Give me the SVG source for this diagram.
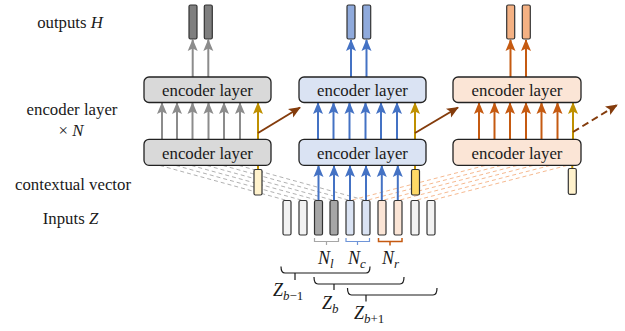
<svg xmlns="http://www.w3.org/2000/svg" width="625" height="331" viewBox="0 0 625 331">
<style>
.lbl{font-family:'Liberation Serif',serif;font-size:16.8px;fill:#1a1a1a}
.box{stroke:#222;stroke-width:1.3}
.g{fill:#d9d9d9}.b{fill:#dae3f3}.o{fill:#fbe5d6}
.bar{stroke:#333;stroke-width:1.2}
.math{font-family:'Liberation Serif',serif;font-style:italic;fill:#1a1a1a}
.up{font-style:normal}
.ag{stroke:#8c8c8c;stroke-width:2;fill:none;marker-end:url(#mg)}
.ab{stroke:#4472c4;stroke-width:2;fill:none;marker-end:url(#mb)}
.ao{stroke:#c55a11;stroke-width:2;fill:none;marker-end:url(#mo)}
.ay{stroke:#bf9000;stroke-width:2;fill:none;marker-end:url(#my)}
.ar{stroke:#843c0c;stroke-width:2;fill:none;marker-end:url(#mr)}
.dg{stroke:#a8a8a8;stroke-width:0.9;stroke-dasharray:4 3;fill:none}
.do{stroke:#f4b183;stroke-width:0.9;stroke-dasharray:4 3;fill:none}
.brace{stroke:#1a1a1a;stroke-width:1.2;fill:none}
</style>
<defs>
<marker id="mg" markerUnits="userSpaceOnUse" markerWidth="13" markerHeight="13" viewBox="0 0 13 13" refX="11" refY="6.5" orient="auto"><path d="M0,1.5 L12,6.5 L0,11.5 L2.5,6.5 z" fill="#8c8c8c"/></marker>
<marker id="mb" markerUnits="userSpaceOnUse" markerWidth="13" markerHeight="13" viewBox="0 0 13 13" refX="11" refY="6.5" orient="auto"><path d="M0,1.5 L12,6.5 L0,11.5 L2.5,6.5 z" fill="#4472c4"/></marker>
<marker id="mo" markerUnits="userSpaceOnUse" markerWidth="13" markerHeight="13" viewBox="0 0 13 13" refX="11" refY="6.5" orient="auto"><path d="M0,1.5 L12,6.5 L0,11.5 L2.5,6.5 z" fill="#c55a11"/></marker>
<marker id="my" markerUnits="userSpaceOnUse" markerWidth="13" markerHeight="13" viewBox="0 0 13 13" refX="11" refY="6.5" orient="auto"><path d="M0,1.5 L12,6.5 L0,11.5 L2.5,6.5 z" fill="#bf9000"/></marker>
<marker id="mr" markerUnits="userSpaceOnUse" markerWidth="13" markerHeight="13" viewBox="0 0 13 13" refX="11" refY="6.5" orient="auto"><path d="M0,1.5 L12,6.5 L0,11.5 L2.5,6.5 z" fill="#843c0c"/></marker>
</defs>

<g id="labels" font-family="Liberation Serif, serif">
<text class="lbl" x="70" y="27.5" text-anchor="middle">outputs <tspan font-style="italic">H</tspan></text>
<text class="lbl" x="72" y="115" text-anchor="middle">encoder layer</text>
<text class="lbl" x="71" y="136" text-anchor="middle">× <tspan font-style="italic">N</tspan></text>
<text class="lbl" x="73" y="189.5" text-anchor="middle">contextual vector</text>
<text class="lbl" x="70.5" y="224" text-anchor="middle">Inputs <tspan font-style="italic">Z</tspan></text>
</g>

<g id="connectors">
<path class="dg" d="M160,165.5 L287,200.5 M176,165.5 L303,200.5 M191.5,165.5 L318.5,200.5 M207,165.5 L334,200.5 M223,165.5 L350,200.5 M239,165.5 L366,200.5"/>
<path class="do" d="M485,165.5 L350,200.5 M501,165.5 L366,200.5 M517,165.5 L382,200.5 M533,165.5 L398,200.5 M550,165.5 L415,200.5 M567,165.5 L431,200.5"/>
<line class="ag" x1="162" y1="139" x2="162" y2="103"/>
<line class="ag" x1="177" y1="139" x2="177" y2="103"/>
<line class="ag" x1="192.5" y1="139" x2="192.5" y2="103"/>
<line class="ag" x1="208.5" y1="139" x2="208.5" y2="103"/>
<line class="ag" x1="224" y1="139" x2="224" y2="103"/>
<line class="ag" x1="240" y1="139" x2="240" y2="103"/>
<line class="ay" x1="258" y1="139" x2="258" y2="103"/>
<line class="ag" x1="192.7" y1="77" x2="192.7" y2="40"/>
<line class="ag" x1="208.3" y1="77" x2="208.3" y2="40"/>
<line x1="258" y1="165.5" x2="258" y2="169.5" stroke="#bf9000" stroke-width="2"/>
<line class="ab" x1="318" y1="139" x2="318" y2="103"/>
<line class="ab" x1="333.5" y1="139" x2="333.5" y2="103"/>
<line class="ab" x1="349.5" y1="139" x2="349.5" y2="103"/>
<line class="ab" x1="365.5" y1="139" x2="365.5" y2="103"/>
<line class="ab" x1="381" y1="139" x2="381" y2="103"/>
<line class="ab" x1="397" y1="139" x2="397" y2="103"/>
<line class="ay" x1="415" y1="139" x2="415" y2="103"/>
<line class="ab" x1="351" y1="77" x2="351" y2="40"/>
<line class="ab" x1="366.5" y1="77" x2="366.5" y2="40"/>
<line class="ab" x1="318.5" y1="200.5" x2="318.5" y2="166"/>
<line class="ab" x1="334" y1="200.5" x2="334" y2="166"/>
<line class="ab" x1="350" y1="200.5" x2="350" y2="166"/>
<line class="ab" x1="366" y1="200.5" x2="366" y2="166"/>
<line class="ab" x1="381.8" y1="200.5" x2="381.8" y2="166"/>
<line class="ab" x1="397.8" y1="200.5" x2="397.8" y2="166"/>
<line x1="415" y1="165.5" x2="415" y2="169.5" stroke="#bf9000" stroke-width="2"/>
<line class="ao" x1="479" y1="139" x2="479" y2="103"/>
<line class="ao" x1="494.5" y1="139" x2="494.5" y2="103"/>
<line class="ao" x1="510" y1="139" x2="510" y2="103"/>
<line class="ao" x1="526" y1="139" x2="526" y2="103"/>
<line class="ao" x1="541.5" y1="139" x2="541.5" y2="103"/>
<line class="ao" x1="557.5" y1="139" x2="557.5" y2="103"/>
<line class="ay" x1="573" y1="139" x2="573" y2="103"/>
<line class="ao" x1="510.5" y1="77" x2="510.5" y2="40"/>
<line class="ao" x1="526" y1="77" x2="526" y2="40"/>
<line x1="572.3" y1="165.5" x2="572.3" y2="168.5" stroke="#bf9000" stroke-width="2"/>
<line class="ar" x1="258" y1="133" x2="300" y2="107.5"/>
<line class="ar" x1="415" y1="133" x2="458" y2="107.5"/>
<line class="ar" x1="573" y1="132" x2="617" y2="105" stroke-dasharray="7 4"/>
</g>

<g id="col1">
<rect class="box g" x="144" y="77" width="127" height="25.5" rx="5"/>
<text class="lbl" x="207.5" y="96" text-anchor="middle" font-family="Liberation Serif, serif">encoder layer</text>
<rect class="box g" x="144" y="139.3" width="127" height="26" rx="5"/>
<text class="lbl" x="207.5" y="158.5" text-anchor="middle" font-family="Liberation Serif, serif">encoder layer</text>
<rect class="bar" x="189" y="5" width="8" height="34" rx="1.5" fill="#7f7f7f"/>
<rect class="bar" x="204.3" y="5" width="8" height="34" rx="1.5" fill="#7f7f7f"/>
<rect class="bar" x="254" y="169.5" width="8" height="25.5" rx="1.5" fill="#fff2cc"/>
</g>

<g id="col2">
<rect class="box b" x="299" y="77" width="127" height="25.5" rx="5"/>
<text class="lbl" x="362.5" y="96" text-anchor="middle" font-family="Liberation Serif, serif">encoder layer</text>
<rect class="box b" x="299" y="139.3" width="127" height="26" rx="5"/>
<text class="lbl" x="362.5" y="158.5" text-anchor="middle" font-family="Liberation Serif, serif">encoder layer</text>
<rect class="bar" x="347" y="5" width="8" height="34" rx="1.5" fill="#8faadc"/>
<rect class="bar" x="362.7" y="5" width="8" height="34" rx="1.5" fill="#8faadc"/>
<rect class="bar" x="411.5" y="169.5" width="8" height="25.5" rx="1.5" fill="#ffd966"/>
</g>

<g id="col3">
<rect class="box o" x="453" y="77" width="128" height="25.5" rx="5"/>
<text class="lbl" x="517" y="96" text-anchor="middle" font-family="Liberation Serif, serif">encoder layer</text>
<rect class="box o" x="453" y="139.3" width="128" height="26" rx="5"/>
<text class="lbl" x="517" y="158.5" text-anchor="middle" font-family="Liberation Serif, serif">encoder layer</text>
<rect class="bar" x="506.7" y="5" width="8" height="34" rx="1.5" fill="#f4b183"/>
<rect class="bar" x="522.3" y="5" width="8" height="34" rx="1.5" fill="#f4b183"/>
<rect class="bar" x="568.3" y="168.5" width="8" height="25.8" rx="1.5" fill="#fff2cc"/>
</g>

<g id="inputs">
<rect class="bar" x="283" y="200.5" width="8" height="34.5" rx="1.5" fill="#f2f2f2"/>
<rect class="bar" x="299" y="200.5" width="8" height="34.5" rx="1.5" fill="#f2f2f2"/>
<rect class="bar" x="314.5" y="200.5" width="8" height="34.5" rx="1.5" fill="#a6a6a6"/>
<rect class="bar" x="330" y="200.5" width="8" height="34.5" rx="1.5" fill="#a6a6a6"/>
<rect class="bar" x="346" y="200.5" width="8" height="34.5" rx="1.5" fill="#dae3f3"/>
<rect class="bar" x="362" y="200.5" width="8" height="34.5" rx="1.5" fill="#dae3f3"/>
<rect class="bar" x="378" y="200.5" width="8" height="34.5" rx="1.5" fill="#fbe5d6"/>
<rect class="bar" x="394" y="200.5" width="8" height="34.5" rx="1.5" fill="#fbe5d6"/>
<rect class="bar" x="411" y="200.5" width="8" height="34.5" rx="1.5" fill="#f2f2f2"/>
<rect class="bar" x="427" y="200.5" width="8" height="34.5" rx="1.5" fill="#f2f2f2"/>
</g>

<g id="brackets">
<path d="M314.5,238 V241.5 H338.5 V238 M326.5,241.5 V245" stroke="#a6a6a6" stroke-width="1.2" fill="none"/>
<path d="M346,238 V241.5 H369.5 V238 M357.5,241.5 V245" stroke="#6f95d8" stroke-width="1.2" fill="none"/>
<path d="M378.5,238 V241.5 H402 V238 M390,241.5 V245.5" stroke="#c55a11" stroke-width="1.5" fill="none"/>
<path class="brace" d="M281,266.5 Q281,273 285,273 H366 Q370,273 370,266.5 M295,273 V280"/>
<path class="brace" d="M314,277 Q314,284 318,284 H400 Q404,284 404,277 M334,284 V290"/>
<path class="brace" d="M347.5,288 Q347.5,295 351.5,295 H433 Q437,295 437,288 M366,295 V301.5"/>
</g>

<g id="math" font-family="Liberation Serif, serif">
<text class="math" x="318" y="264" font-size="18">N<tspan font-size="13" dy="4">l</tspan></text>
<text class="math" x="348" y="264" font-size="18">N<tspan font-size="13" dy="4">c</tspan></text>
<text class="math" x="382" y="264" font-size="18">N<tspan font-size="13" dy="4">r</tspan></text>
<text class="math" x="273" y="296" font-size="18">Z<tspan font-size="13" dy="4">b<tspan class="up">−1</tspan></tspan></text>
<text class="math" x="322" y="309" font-size="18">Z<tspan font-size="13" dy="4">b</tspan></text>
<text class="math" x="354" y="319" font-size="18">Z<tspan font-size="13" dy="4">b<tspan class="up">+1</tspan></tspan></text>
</g>
</svg>
